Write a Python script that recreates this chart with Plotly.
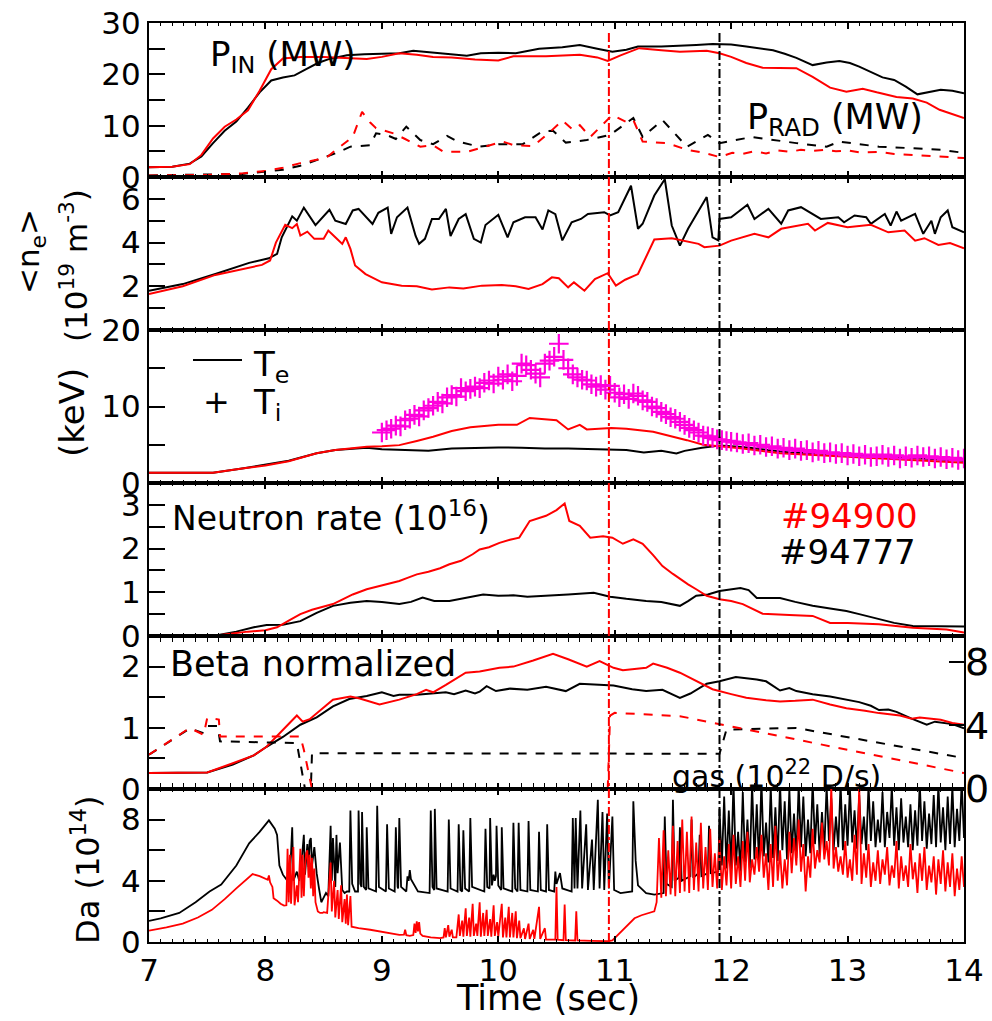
import plotly.graph_objects as go

W, H = 992, 1021
FONT = "DejaVu Sans"
RED = "#ff0000"
BLACK = "#000000"
MAGENTA = "#ff00dc"

# ---------------- data (time in s) ----------------
# Panel 1: input power P_IN (MW)
pin_black = [(7.0, 1.9), (7.2, 2.0), (7.35, 2.6), (7.45, 4.0), (7.55, 6.6), (7.65, 9.0), (7.75, 10.8),
             (7.85, 13.5), (7.95, 16.5), (8.05, 18.8), (8.15, 19.4), (8.25, 19.8), (8.35, 21.0),
             (8.45, 22.2), (8.55, 23.0), (8.7, 23.7), (8.85, 23.9), (9.0, 24.0), (9.15, 24.1),
             (9.27, 24.6), (9.4, 24.3), (9.5, 24.0), (9.6, 23.9), (9.73, 23.6), (9.85, 24.1),
             (10.0, 24.2), (10.15, 24.1), (10.35, 25.0), (10.55, 25.3), (10.7, 25.7), (10.85, 25.0),
             (10.98, 24.4), (11.1, 24.8), (11.2, 25.4), (11.4, 25.4), (11.56, 25.5), (11.7, 25.7),
             (11.84, 25.9), (12.0, 25.8), (12.13, 25.4), (12.25, 25.1), (12.36, 24.7), (12.46, 24.0),
             (12.56, 23.2), (12.7, 21.8), (12.82, 22.3), (12.93, 22.6), (13.02, 22.2), (13.1, 21.5),
             (13.2, 20.5), (13.3, 19.4), (13.4, 18.9), (13.5, 17.6), (13.6, 16.1), (13.7, 16.6),
             (13.8, 17.0), (13.9, 16.8), (14.0, 16.3)]
pin_red = [(7.0, 1.9), (7.2, 2.0), (7.35, 2.5), (7.45, 4.3), (7.55, 7.5), (7.65, 9.8), (7.75, 11.2),
           (7.85, 13.0), (7.95, 16.8), (8.05, 21.0), (8.15, 23.1), (8.3, 23.4), (8.5, 23.4), (8.7, 23.2),
           (8.87, 23.0), (9.0, 23.4), (9.15, 24.1), (9.3, 23.8), (9.44, 23.4), (9.6, 23.3), (9.8, 22.9),
           (10.0, 22.7), (10.13, 23.5), (10.41, 23.5), (10.7, 23.8), (10.85, 23.3), (10.94, 22.6),
           (11.05, 23.7), (11.21, 25.1), (11.4, 24.7), (11.56, 24.4), (11.79, 24.6), (11.9, 24.1),
           (12.0, 23.4), (12.13, 22.2), (12.27, 21.3), (12.56, 21.2), (12.7, 19.5), (12.85, 17.4),
           (12.99, 16.6), (13.13, 17.2), (13.25, 16.5), (13.42, 15.6), (13.56, 15.3), (13.68, 14.5),
           (13.79, 13.1), (13.9, 12.2), (14.0, 11.5)]
# Panel 1: radiated power P_RAD (MW)
prad_black = [(7.0, 0.3), (7.5, 0.4), (7.8, 0.6), (8.15, 1.4), (8.3, 2.2), (8.44, 3.3), (8.6, 4.6),
              (8.73, 5.9), (8.9, 6.2), (8.95, 8.5), (9.04, 8.2), (9.12, 7.4), (9.21, 9.8), (9.33, 7.2),
              (9.44, 6.4), (9.56, 8.0), (9.65, 6.9), (9.84, 5.9), (10.01, 6.4), (10.21, 6.4),
              (10.38, 8.9), (10.47, 9.0), (10.58, 6.7), (10.76, 7.2), (10.96, 8.2), (11.16, 11.5),
              (11.24, 7.8), (11.41, 11.1), (11.62, 5.9), (11.8, 8.2), (11.9, 6.6), (12.18, 7.8),
              (12.35, 7.2), (12.56, 6.6), (12.82, 5.9), (12.93, 6.9), (13.1, 6.4), (13.27, 5.9),
              (13.56, 5.6), (13.8, 5.3), (14.0, 4.7)]
prad_red = [(7.0, 0.3), (7.5, 0.4), (7.8, 0.7), (8.01, 1.2), (8.15, 1.8), (8.3, 2.7), (8.45, 3.4),
            (8.53, 3.9), (8.64, 5.9), (8.75, 7.8), (8.83, 12.7), (8.9, 10.6), (8.95, 9.5), (9.1, 8.5),
            (9.2, 7.4), (9.33, 5.9), (9.44, 6.2), (9.53, 4.9), (9.73, 4.9), (9.84, 5.6), (10.04, 6.9),
            (10.13, 6.2), (10.3, 6.0), (10.45, 8.9), (10.55, 11.0), (10.64, 9.2), (10.7, 10.1),
            (10.79, 7.8), (10.9, 10.2), (10.98, 12.1), (11.1, 10.7), (11.16, 11.1), (11.24, 6.9),
            (11.45, 6.6), (11.62, 5.3), (11.75, 4.8), (11.9, 3.9), (12.01, 4.7), (12.1, 4.5),
            (12.2, 5.0), (12.3, 4.6), (12.4, 5.2), (12.5, 4.9), (12.6, 5.3), (12.7, 5.1), (12.8, 5.3),
            (12.9, 5.0), (13.0, 5.2), (13.1, 4.8), (13.27, 4.9), (13.4, 4.5), (13.56, 4.3),
            (13.7, 4.2), (13.8, 4.0), (14.0, 3.7)]

# Panel 2: line-averaged density <n_e> (1e19 m^-3)
ne_black = [(7.0, 1.8), (7.29, 2.1), (7.57, 2.56), (7.86, 3.07), (8.03, 3.28), (8.1, 3.48), (8.14, 4.24),
            (8.23, 5.2), (8.27, 5.0), (8.33, 5.6), (8.43, 4.8), (8.55, 5.5), (8.6, 5.0), (8.69, 4.85),
            (8.75, 5.47), (8.8, 5.54), (8.92, 4.85), (8.97, 5.36), (9.05, 5.6), (9.08, 4.4),
            (9.13, 5.16), (9.22, 5.6), (9.29, 4.3), (9.32, 3.94), (9.37, 4.17), (9.43, 5.08),
            (9.49, 5.08), (9.55, 5.54), (9.59, 4.3), (9.66, 5.08), (9.72, 5.3), (9.79, 4.17),
            (9.85, 4.0), (9.89, 4.8), (10.0, 5.27), (10.08, 4.24), (10.13, 4.93), (10.23, 5.16),
            (10.32, 5.16), (10.38, 4.6), (10.43, 5.47), (10.49, 5.3), (10.55, 4.1), (10.63, 4.93),
            (10.71, 5.08), (10.77, 5.31), (10.91, 5.39), (10.96, 5.24), (11.03, 5.39), (11.14, 6.6),
            (11.2, 4.63), (11.24, 4.86), (11.34, 6.15), (11.43, 6.9), (11.49, 4.78), (11.56, 3.86),
            (11.63, 4.63), (11.79, 6.08), (11.84, 4.24), (11.89, 4.1), (11.9, 5.08), (12.0, 5.16),
            (12.14, 5.73), (12.2, 5.08), (12.32, 5.54), (12.43, 4.86), (12.49, 5.47), (12.6, 5.62),
            (12.77, 5.08), (12.92, 5.16), (12.97, 4.93), (13.06, 5.24), (13.16, 5.16), (13.2, 4.86),
            (13.32, 5.31), (13.37, 4.78), (13.42, 5.42), (13.46, 5.0), (13.58, 5.31), (13.65, 4.4),
            (13.72, 5.0), (13.75, 4.4), (13.8, 5.16), (13.86, 5.47), (13.9, 4.7), (14.0, 4.47)]
ne_red = [(7.0, 1.65), (7.29, 2.0), (7.57, 2.52), (7.86, 2.87), (7.97, 2.98), (8.04, 3.18), (8.09, 4.0),
          (8.17, 4.81), (8.23, 4.66), (8.27, 4.85), (8.3, 4.32), (8.36, 4.5), (8.42, 4.17), (8.5, 4.17),
          (8.54, 4.55), (8.6, 4.24), (8.66, 3.94), (8.69, 4.24), (8.73, 3.71), (8.77, 2.95),
          (8.86, 2.56), (9.0, 2.18), (9.17, 2.03), (9.3, 2.0), (9.43, 1.85), (9.58, 1.95), (9.7, 1.9),
          (9.86, 2.03), (10.03, 2.06), (10.15, 2.0), (10.26, 1.88), (10.38, 2.1), (10.46, 2.41),
          (10.52, 2.37), (10.6, 1.95), (10.65, 2.18), (10.74, 1.8), (10.83, 2.33), (10.94, 2.6),
          (11.01, 2.03), (11.09, 2.3), (11.2, 2.56), (11.26, 3.25), (11.34, 4.14), (11.49, 4.2),
          (11.72, 3.94), (11.77, 3.79), (11.9, 3.86), (12.0, 4.09), (12.2, 4.4), (12.32, 4.24),
          (12.43, 4.63), (12.66, 4.86), (12.72, 4.55), (12.83, 4.9), (13.0, 4.7), (13.2, 4.81),
          (13.35, 4.47), (13.49, 4.55), (13.58, 4.09), (13.66, 4.2), (13.78, 3.89), (13.88, 3.98),
          (14.0, 3.74)]

# Panel 3: electron temperature Te (keV)
te_black = [(7.0, 1.35), (7.55, 1.35), (7.8, 1.9), (8.0, 2.35), (8.2, 2.9), (8.44, 3.9), (8.6, 4.3),
            (8.87, 4.6), (9.0, 4.4), (9.2, 4.3), (9.4, 4.2), (9.6, 4.5), (9.8, 4.6), (10.0, 4.65),
            (10.2, 4.6), (10.4, 4.5), (10.6, 4.5), (10.8, 4.45), (10.95, 4.35), (11.1, 4.3),
            (11.25, 4.0), (11.4, 4.2), (11.53, 3.85), (11.6, 4.2), (11.75, 4.6), (11.9, 4.9),
            (12.1, 4.7), (12.5, 4.0), (13.0, 3.7), (13.5, 3.3), (14.0, 2.9)]
te_red = [(7.0, 1.35), (7.55, 1.35), (7.8, 1.9), (8.0, 2.3), (8.2, 2.85), (8.44, 3.9), (8.6, 4.3),
          (8.87, 4.75), (9.0, 4.8), (9.15, 4.95), (9.3, 5.5), (9.44, 6.05), (9.6, 6.8), (9.76, 7.3),
          (10.0, 7.6), (10.16, 7.6), (10.27, 8.5), (10.5, 8.2), (10.6, 7.0), (10.7, 7.6), (10.76, 7.0),
          (10.97, 7.2), (11.1, 7.1), (11.33, 6.7), (11.62, 5.6), (11.76, 5.0), (11.9, 4.8),
          (12.1, 4.5), (12.42, 3.9), (13.0, 3.45), (13.56, 3.0), (14.0, 2.66)]
# Ion temperature Ti (keV): 9.00-12.00 every 0.04 s, then 12.05-14.00 every 0.05 s
ti_part1 = [6.6, 6.9, 7.1, 7.5, 7.4, 8.2, 8.4, 8.9, 8.7, 9.5, 9.8, 10.1, 10.6, 10.4, 11.2, 11.5, 11.3,
            12.4, 12.0, 12.3, 12.6, 12.4, 13.1, 13.4, 13.0, 13.9, 13.5, 14.2, 13.3, 14.0, 15.6, 15.4,
            14.8, 14.3, 13.8, 15.6, 16.0, 16.5, 18.2, 16.1, 15.0, 14.2, 13.8, 13.5, 13.4, 12.9, 12.6,
            12.8, 12.2, 12.7, 11.8, 11.2, 11.6, 11.0, 11.7, 11.4, 10.8, 10.6, 10.0, 9.8, 9.3, 9.0, 8.6,
            8.4, 8.0, 7.6, 7.2, 6.9, 6.6, 6.2, 6.1, 5.9, 5.7, 5.6, 5.5, 5.4]
ti_part2 = [5.3, 5.1, 5.2, 4.9, 5.0, 4.7, 4.8, 4.5, 4.6, 4.3, 4.5, 4.2, 4.3, 4.0, 4.2, 3.9, 4.0, 3.8,
            3.9, 3.6, 3.8, 3.5, 3.7, 3.4, 3.5, 3.7, 3.4, 3.6, 3.2, 3.5, 3.3, 3.6, 3.4, 3.5, 3.2, 3.4,
            3.1, 3.3, 3.0, 3.2]

# Panel 4: neutron rate (1e16 /s)
neut_black = [(7.0, 0.0), (7.55, 0.0), (7.75, 0.1), (7.9, 0.2), (8.01, 0.25), (8.15, 0.26), (8.3, 0.34),
              (8.44, 0.53), (8.58, 0.69), (8.73, 0.76), (8.87, 0.8), (9.0, 0.78), (9.15, 0.73),
              (9.25, 0.78), (9.35, 0.88), (9.45, 0.8), (9.58, 0.8), (9.7, 0.86), (9.87, 0.95),
              (10.0, 0.92), (10.13, 0.93), (10.25, 0.9), (10.41, 0.92), (10.6, 0.95), (10.82, 0.99),
              (10.96, 0.9), (11.1, 0.85), (11.27, 0.8), (11.4, 0.78), (11.56, 0.69), (11.63, 0.8),
              (11.7, 0.92), (11.8, 0.95), (11.9, 1.03), (12.08, 1.1), (12.15, 1.05), (12.22, 0.87),
              (12.42, 0.87), (12.55, 0.78), (12.7, 0.69), (12.85, 0.63), (12.99, 0.57), (13.1, 0.5),
              (13.27, 0.38), (13.4, 0.3), (13.56, 0.23), (13.8, 0.23), (14.0, 0.22)]
neut_red = [(7.0, 0.0), (7.55, 0.0), (7.7, 0.05), (7.85, 0.1), (8.0, 0.13), (8.1, 0.2), (8.2, 0.35),
            (8.3, 0.5), (8.4, 0.6), (8.5, 0.68), (8.58, 0.73), (8.65, 0.82), (8.75, 0.95), (8.87, 1.07),
            (8.95, 1.12), (9.05, 1.2), (9.15, 1.26), (9.22, 1.33), (9.3, 1.41), (9.4, 1.47),
            (9.5, 1.55), (9.58, 1.64), (9.68, 1.72), (9.78, 1.87), (9.84, 1.98), (9.92, 2.03),
            (10.01, 2.13), (10.1, 2.2), (10.18, 2.25), (10.27, 2.63), (10.35, 2.7), (10.41, 2.75),
            (10.5, 2.88), (10.57, 3.03), (10.61, 2.63), (10.7, 2.52), (10.79, 2.25), (10.9, 2.28),
            (10.98, 2.25), (11.07, 2.11), (11.16, 2.21), (11.24, 2.11), (11.33, 1.85), (11.41, 1.6),
            (11.5, 1.42), (11.56, 1.3), (11.63, 1.18), (11.7, 1.07), (11.79, 0.92), (11.9, 0.84),
            (12.0, 0.8), (12.1, 0.73), (12.2, 0.6), (12.27, 0.51), (12.5, 0.48), (12.7, 0.46),
            (12.85, 0.3), (13.0, 0.3), (13.27, 0.27), (13.56, 0.19), (13.85, 0.15), (13.93, 0.12),
            (14.0, 0.08)]

# Panel 5: normalized beta
beta_black = [(7.0, 0.26), (7.5, 0.27), (7.72, 0.4), (7.9, 0.55), (8.01, 0.69), (8.15, 0.85), (8.3, 1.05),
              (8.44, 1.17), (8.58, 1.35), (8.72, 1.47), (8.87, 1.52), (8.95, 1.55), (9.0, 1.58),
              (9.1, 1.52), (9.15, 1.54), (9.3, 1.54), (9.44, 1.56), (9.55, 1.58), (9.62, 1.55),
              (9.72, 1.61), (9.8, 1.56), (9.84, 1.59), (9.9, 1.68), (9.98, 1.6), (10.1, 1.64),
              (10.25, 1.62), (10.41, 1.67), (10.5, 1.63), (10.58, 1.6), (10.7, 1.72), (10.85, 1.7),
              (10.99, 1.69), (11.15, 1.63), (11.27, 1.6), (11.41, 1.62), (11.56, 1.49), (11.65, 1.56),
              (11.79, 1.72), (11.9, 1.76), (12.04, 1.83), (12.22, 1.79), (12.3, 1.76), (12.42, 1.61),
              (12.5, 1.65), (12.56, 1.6), (12.7, 1.55), (12.85, 1.51), (12.99, 1.46), (13.1, 1.42),
              (13.2, 1.36), (13.27, 1.29), (13.35, 1.3), (13.42, 1.26), (13.55, 1.15), (13.68, 1.05),
              (13.75, 1.1), (13.9, 1.06), (14.0, 0.99)]
beta_red = [(7.0, 0.26), (7.5, 0.27), (7.72, 0.42), (7.9, 0.55), (8.01, 0.69), (8.15, 0.97), (8.27, 1.2),
            (8.32, 1.1), (8.38, 1.14), (8.5, 1.33), (8.58, 1.46), (8.73, 1.51), (8.81, 1.48),
            (8.98, 1.38), (9.15, 1.46), (9.3, 1.55), (9.38, 1.62), (9.44, 1.58), (9.55, 1.7),
            (9.72, 1.9), (9.84, 1.92), (10.01, 1.98), (10.13, 2.0), (10.3, 2.1), (10.47, 2.21),
            (10.6, 2.12), (10.76, 2.0), (10.87, 2.09), (10.99, 1.98), (11.07, 1.94), (11.2, 1.96),
            (11.27, 1.98), (11.33, 2.05), (11.45, 1.98), (11.56, 1.9), (11.7, 1.76), (11.84, 1.63),
            (12.0, 1.55), (12.13, 1.49), (12.3, 1.45), (12.42, 1.43), (12.55, 1.44), (12.7, 1.46),
            (12.85, 1.38), (12.99, 1.32), (13.15, 1.28), (13.27, 1.24), (13.45, 1.2), (13.55, 1.15),
            (13.62, 1.17), (13.8, 1.13), (13.9, 1.08), (14.0, 1.05)]
# Panel 5 (right axis): gas puffing (1e22 D/s)
gas_black = [(7.0, 2.15), (7.35, 3.8), (7.47, 3.5), (7.5, 3.95), (7.59, 3.95), (7.61, 2.99), (8.27, 2.88),
             (8.34, 0.0), (8.39, 0.0), (8.4, 2.25), (11.9, 2.21), (11.96, 3.73), (12.56, 3.83),
             (14.0, 1.94)]
gas_red = [(7.0, 2.15), (7.35, 3.83), (7.47, 3.4), (7.5, 4.46), (7.6, 4.36), (7.61, 3.3), (8.3, 3.3),
           (8.33, 2.46), (8.4, 0.0), (10.94, 0.0), (10.96, 4.6), (11.0, 4.78), (11.56, 4.57),
           (14.0, 1.0)]

# Panel 6: D-alpha (1e14)
da_black_early = [(7.0, 1.38), (7.1, 1.55), (7.26, 1.9), (7.4, 2.6), (7.52, 3.3), (7.62, 3.75), (7.75, 5.0),
                  (7.86, 6.45), (7.95, 7.2), (8.03, 7.95), (8.08, 7.4), (8.1, 7.0), (8.12, 5.0),
                  (8.15, 4.4), (8.18, 4.1), (8.21, 4.2), (8.23, 7.5), (8.24, 4.0), (8.27, 4.6),
                  (8.29, 4.0), (8.31, 5.2), (8.33, 7.0), (8.34, 4.4), (8.36, 6.4), (8.37, 4.9),
                  (8.38, 6.6), (8.39, 6.8), (8.4, 5.0), (8.42, 6.2), (8.44, 4.5), (8.46, 3.5),
                  (8.48, 2.6), (8.5, 2.9), (8.52, 3.2), (8.54, 3.0), (8.56, 7.6), (8.57, 4.0),
                  (8.58, 6.8), (8.6, 3.6), (8.61, 7.0), (8.62, 4.5), (8.64, 6.5), (8.66, 3.4),
                  (8.68, 3.2), (8.7, 3.3), (8.72, 3.3), (8.73, 8.6), (8.745, 3.8), (8.77, 3.3),
                  (8.795, 3.3), (8.8, 8.6), (8.815, 3.8), (8.825, 3.6), (8.83, 8.5), (8.845, 3.6),
                  (8.865, 3.4), (8.87, 7.5), (8.885, 3.5), (8.95, 3.3), (8.96, 8.9), (8.975, 3.6),
                  (9.035, 3.3), (9.045, 7.7), (9.06, 3.5), (9.11, 3.3), (9.12, 7.5), (9.135, 3.6),
                  (9.14, 3.5), (9.15, 8.1), (9.165, 3.6), (9.21, 3.3), (9.22, 4.3), (9.23, 4.0),
                  (9.24, 4.7), (9.25, 4.1), (9.27, 3.8), (9.31, 3.3), (9.41, 3.2), (9.42, 8.6),
                  (9.435, 3.6), (9.45, 3.4), (9.455, 8.7), (9.47, 3.5), (9.565, 3.3), (9.575, 8.0),
                  (9.59, 3.5), (9.65, 3.3), (9.66, 7.7), (9.675, 3.4), (9.69, 3.3), (9.7, 7.3),
                  (9.715, 3.5), (9.75, 3.3), (9.76, 8.1), (9.775, 3.6), (9.88, 3.3), (9.89, 7.4),
                  (9.905, 3.6), (9.925, 3.5), (9.93, 8.1), (9.945, 3.7), (9.96, 4.4), (9.97, 4.0),
                  (9.98, 4.3), (9.985, 7.6), (10.0, 3.7), (10.025, 3.4), (10.03, 7.5), (10.045, 3.5),
                  (10.12, 3.3), (10.13, 7.8), (10.145, 3.5), (10.165, 3.3), (10.175, 7.8), (10.19, 3.4),
                  (10.25, 3.3), (10.26, 7.9), (10.275, 3.4), (10.34, 3.3), (10.35, 7.2), (10.365, 3.4),
                  (10.41, 3.3), (10.42, 7.7), (10.435, 3.4), (10.48, 3.3), (10.49, 4.6), (10.5, 3.8),
                  (10.53, 4.5), (10.55, 3.5), (10.63, 3.3), (10.64, 8.1), (10.655, 3.5), (10.665, 8.1),
                  (10.68, 3.5), (10.705, 8.6), (10.72, 3.5), (10.755, 7.7), (10.77, 3.4), (10.805, 6.7),
                  (10.82, 3.4), (10.855, 9.3), (10.87, 3.5), (10.895, 8.5), (10.91, 3.4), (10.935, 8.4),
                  (10.95, 3.5), (10.98, 8.2), (10.995, 3.4), (11.05, 3.2), (11.15, 3.3), (11.16, 9.2),
                  (11.18, 5.3), (11.2, 3.7), (11.27, 3.2), (11.34, 3.1), (11.42, 3.2), (11.43, 8.2),
                  (11.445, 3.8), (11.49, 3.6), (11.5, 9.3), (11.515, 4.0), (11.55, 4.2), (11.56, 7.5),
                  (11.575, 4.0), (11.65, 4.3), (11.66, 8.0), (11.675, 4.2), (11.72, 4.5), (11.73, 7.0),
                  (11.745, 4.3), (11.8, 4.5), (11.81, 7.6), (11.825, 4.5), (11.89, 4.6), (11.9, 8.7)]
# dense part of black D-alpha, 11.92-14.00 s every 0.02 s
da_black_dense = [5.0, 9.5, 4.8, 8.6, 4.7, 10.5, 5.0, 7.2, 4.6, 9.8, 5.2, 8.0, 4.8, 10.4, 5.4, 9.0, 5.0,
                  10.6, 5.6, 7.8, 5.2, 10.2, 5.5, 8.8, 5.3, 10.4, 6.0, 9.2, 5.4, 10.0, 5.8, 8.4, 5.5,
                  10.3, 6.2, 9.5, 5.6, 8.0, 5.8, 10.5, 6.4, 9.0, 5.7, 8.5, 6.0, 10.2, 6.6, 9.4, 6.0,
                  8.2, 6.2, 10.4, 6.0, 9.0, 6.3, 10.1, 6.5, 8.6, 6.1, 9.6, 6.4, 8.2, 6.0, 10.3, 6.6,
                  9.2, 6.2, 8.0, 6.5, 9.8, 6.2, 8.5, 6.8, 10.2, 6.3, 8.8, 6.0, 9.4, 6.5, 8.2, 6.2, 9.0,
                  6.0, 8.6, 6.3, 10.4, 6.6, 9.2, 6.1, 8.4, 6.4, 9.6, 6.2, 10.3, 6.5, 8.8, 6.0, 9.5, 6.4,
                  10.2, 6.2, 8.7, 6.6, 10.5, 6.8]
da_red_early = [(7.0, 0.74), (7.15, 0.95), (7.29, 1.2), (7.42, 1.6), (7.54, 2.1), (7.65, 2.8), (7.75, 3.5),
                (7.82, 4.0), (7.89, 4.44), (7.95, 4.3), (8.02, 4.07), (8.03, 4.35), (8.04, 3.9),
                (8.06, 3.6), (8.07, 2.86), (8.1, 2.7), (8.13, 2.5), (8.16, 2.38), (8.18, 2.4), (8.19, 6.1),
                (8.2, 2.6), (8.21, 5.7), (8.22, 2.5), (8.24, 6.2), (8.25, 2.4), (8.27, 3.7), (8.28, 2.6),
                (8.3, 6.1), (8.31, 2.9), (8.32, 5.7), (8.33, 3.0), (8.34, 5.0), (8.35, 5.8), (8.36, 6.0),
                (8.37, 4.2), (8.38, 5.7), (8.39, 3.5), (8.4, 5.5), (8.41, 3.0), (8.42, 4.8), (8.43, 2.6),
                (8.45, 2.0), (8.47, 1.9), (8.49, 1.9), (8.5, 1.95), (8.53, 1.9), (8.56, 5.2), (8.57, 2.0),
                (8.59, 4.0), (8.6, 1.6), (8.62, 3.4), (8.63, 1.5), (8.65, 3.7), (8.66, 1.3), (8.68, 2.8),
                (8.69, 1.2), (8.7, 3.1), (8.71, 1.1), (8.73, 3.0), (8.74, 1.0), (8.8, 0.9), (8.9, 0.8),
                (9.0, 0.65), (9.1, 0.5), (9.15, 0.47), (9.19, 0.48), (9.2, 0.8), (9.21, 0.45),
                (9.24, 0.4), (9.27, 0.45), (9.28, 1.2), (9.29, 0.6), (9.3, 1.35), (9.31, 0.7),
                (9.32, 1.3), (9.33, 0.55), (9.35, 0.4), (9.42, 0.3), (9.5, 0.25), (9.53, 0.3),
                (9.54, 0.9), (9.55, 0.3), (9.57, 1.1), (9.58, 0.35), (9.6, 0.8), (9.61, 0.3),
                (9.64, 0.3), (9.66, 1.8), (9.67, 0.4), (9.69, 1.4), (9.7, 0.35), (9.72, 2.2),
                (9.73, 0.4), (9.75, 1.6), (9.76, 0.35), (9.78, 2.5), (9.79, 0.4), (9.81, 1.2),
                (9.82, 0.4), (9.84, 2.6), (9.85, 0.35), (9.87, 1.9), (9.88, 0.4), (9.9, 2.1),
                (9.91, 0.4), (9.93, 1.5), (9.94, 0.35), (9.96, 2.4), (9.97, 0.4), (9.99, 1.3),
                (10.0, 0.35), (10.03, 2.5), (10.04, 0.3), (10.06, 1.6), (10.07, 0.3), (10.09, 2.3),
                (10.1, 0.3), (10.12, 1.9), (10.13, 0.3), (10.15, 2.0), (10.16, 0.25), (10.18, 1.4),
                (10.19, 0.25), (10.22, 0.9), (10.23, 0.2), (10.26, 1.2), (10.27, 0.2), (10.3, 0.8),
                (10.31, 0.2), (10.35, 2.3), (10.36, 0.2), (10.4, 0.9), (10.41, 0.15), (10.45, 0.15),
                (10.49, 0.15), (10.5, 3.6), (10.51, 0.15), (10.56, 0.12), (10.57, 2.45), (10.58, 0.12),
                (10.66, 0.1), (10.67, 2.0), (10.68, 0.1), (10.8, 0.08), (10.94, 0.05), (10.98, 0.1),
                (11.02, 0.4), (11.06, 0.68), (11.1, 1.0), (11.17, 1.55), (11.23, 1.75), (11.29, 1.88),
                (11.34, 2.0)]
# dense part of red D-alpha, 11.36-14.00 s every 0.02 s
da_red_dense = [2.6, 6.8, 2.9, 7.3, 3.0, 6.0, 3.1, 7.6, 3.0, 6.6, 3.2, 8.0, 3.3, 7.2, 3.2, 8.2, 3.4, 6.5,
                3.3, 7.8, 3.5, 6.2, 3.4, 7.4, 3.6, 5.8, 3.5, 6.8, 3.4, 5.6, 3.7, 6.4, 3.5, 7.0, 3.8, 5.6,
                3.6, 6.6, 4.0, 7.2, 3.9, 5.4, 4.4, 6.2, 4.6, 7.0, 4.2, 5.8, 3.4, 6.4, 3.6, 7.6, 4.0, 6.0,
                3.5, 5.4, 3.7, 7.2, 4.5, 6.8, 5.0, 8.0, 4.6, 6.4, 3.3, 5.6, 4.2, 7.4, 4.8, 6.0, 5.2, 7.8,
                5.4, 6.6, 5.0, 10.2, 4.8, 6.2, 4.6, 5.6, 4.4, 6.6, 4.2, 5.4, 4.0, 7.0, 4.4, 10.2, 3.8,
                5.8, 4.2, 6.4, 3.6, 5.2, 4.0, 6.0, 3.8, 5.4, 4.4, 6.2, 3.7, 5.0, 4.2, 6.6, 3.5, 5.6, 4.0,
                5.0, 3.6, 6.4, 4.1, 5.2, 3.2, 5.8, 4.0, 6.2, 3.4, 5.0, 3.9, 5.6, 3.1, 5.4, 3.8, 6.0, 3.3,
                5.2, 3.6, 5.8, 3.0, 4.8, 3.4, 5.6, 3.6]

# event times (s) marked by vertical dash-dot lines
t_event_red = 10.95
t_event_black = 11.9

# ---------------- helpers ----------------
def unzip(pairs):
    return [p[0] for p in pairs], [p[1] for p in pairs]


def grid(t0, dt, n):
    return [round(t0 + dt * i, 3) for i in range(n)]


def px(x):
    return x / W


def py(y):
    return 1 - y / H


fig = go.Figure()


def add_line(xs, ys, color, k, dash="solid", width=2.0, yax=None):
    fig.add_trace(go.Scatter(
        x=xs, y=ys, mode="lines",
        line=dict(color=color, width=width, dash=dash),
        xaxis="x" if k == 1 else f"x{k}",
        yaxis=yax if yax else ("y" if k == 1 else f"y{k}"),
        showlegend=False, hoverinfo="skip"))


# Panel 1
add_line(*unzip(pin_black), BLACK, 1)
add_line(*unzip(pin_red), RED, 1)
add_line(*unzip(prad_black), BLACK, 1, dash="dash")
add_line(*unzip(prad_red), RED, 1, dash="dash")
# Panel 2
add_line(*unzip(ne_black), BLACK, 2)
add_line(*unzip(ne_red), RED, 2)
# Panel 3
add_line(*unzip(te_black), BLACK, 3)
add_line(*unzip(te_red), RED, 3)
ti_t = grid(9.0, 0.04, len(ti_part1)) + grid(12.05, 0.05, len(ti_part2))
fig.add_trace(go.Scatter(
    x=ti_t, y=ti_part1 + ti_part2, mode="markers",
    marker=dict(symbol="cross-thin", size=14, color=MAGENTA, line=dict(color=MAGENTA, width=2.2)),
    xaxis="x3", yaxis="y3", showlegend=False, hoverinfo="skip"))
# Panel 4
add_line(*unzip(neut_black), BLACK, 4, width=2)
add_line(*unzip(neut_red), RED, 4, width=2)
# Panel 5
add_line(*unzip(beta_black), BLACK, 5)
add_line(*unzip(beta_red), RED, 5)
add_line(*unzip(gas_black), BLACK, 5, dash="dash", yax="y7")
add_line(*unzip(gas_red), RED, 5, dash="dash", yax="y7")
# Panel 6
tb, vb = unzip(da_black_early)
add_line(tb + grid(11.92, 0.02, len(da_black_dense)), vb + da_black_dense, BLACK, 6, width=1.8)
tr, vr = unzip(da_red_early)
add_line(tr + grid(11.36, 0.02, len(da_red_dense)), vr + da_red_dense, RED, 6, width=1.8)

# ---------------- layout ----------------
tops = [23, 177, 330, 483, 636, 789]
bottoms = [177, 330, 483, 636, 789, 942]
yranges = [[0, 30], [0, 7], [0, 20], [0, 3.5], [0, 2.5], [0, 10]]
ydticks = [10, 2, 10, 1, 1, 4]
yminor = [5, 1, 5, 0.5, 0.5, 2]
XDOM = [px(149), px(964)]

layout = dict(
    width=W, height=H, margin=dict(l=0, r=0, t=0, b=0, autoexpand=False),
    paper_bgcolor="white", plot_bgcolor="white",
    font=dict(family=FONT, size=30, color="black"),
    showlegend=False,
)
for k in range(1, 7):
    xname = "xaxis" if k == 1 else f"xaxis{k}"
    yname = "yaxis" if k == 1 else f"yaxis{k}"
    layout[xname] = dict(
        domain=XDOM, range=[7, 14], anchor="y" if k == 1 else f"y{k}", automargin=False,
        showline=True, linecolor="black", linewidth=2, mirror="allticks",
        ticks="inside", ticklen=6, tickwidth=1.5, tickcolor="black",
        dtick=1, tick0=7, showgrid=False, zeroline=False,
        minor=dict(dtick=0.1, ticklen=3, ticks="inside", tickcolor="black", tickwidth=1),
        showticklabels=(k == 6),
        tickfont=dict(family=FONT, size=31, color="black"),
        ticklabelstandoff=0,
    )
    layout[yname] = dict(
        domain=[py(bottoms[k - 1]), py(tops[k - 1])], range=yranges[k - 1],
        anchor="x" if k == 1 else f"x{k}", automargin=False,
        showline=True, linecolor="black", linewidth=2, mirror=True,
        ticks="inside", ticklen=16, tickwidth=2, tickcolor="black",
        dtick=ydticks[k - 1], tick0=0, showgrid=False, zeroline=False,
        minor=dict(dtick=yminor[k - 1], ticklen=16, ticks="inside", tickcolor="black", tickwidth=2),
        tickfont=dict(family=FONT, size=31, color="black"),
    )
layout["yaxis7"] = dict(
    overlaying="y5", side="right", anchor="x5", range=[0, 9.6], automargin=False,
    tickvals=[0, 4, 8], ticks="inside", ticklen=15, tickwidth=2, tickcolor="black",
    showline=False, showgrid=False, zeroline=False,
    tickfont=dict(family=FONT, size=38, color="black"),
)

fig.update_layout(**layout)

# vertical event lines across all panels
for tv, col in [(t_event_red, RED), (t_event_black, BLACK)]:
    fig.add_shape(type="line", xref="x", yref="paper", x0=tv, x1=tv,
                  y0=py(942), y1=py(30), line=dict(color=col, width=2, dash="dashdot"), layer="above")

# legend sample line for Te
fig.add_shape(type="line", xref="paper", yref="paper", x0=px(193), x1=px(242), y0=py(360), y1=py(360),
              line=dict(color="black", width=2))


def note(text, x, y, size, xanchor="left", color="black", angle=0, yanchor="middle"):
    fig.add_annotation(text=text, x=px(x), y=py(y), xref="paper", yref="paper",
                       xanchor=xanchor, yanchor=yanchor, showarrow=False, textangle=angle,
                       font=dict(family=FONT, size=size, color=color))


note("P<sub>IN</sub> (MW)", 208, 56, 34)
note("P<sub>RAD</sub> (MW)", 745, 120, 35)
note("&lt;n<sub>e</sub>&gt;", 30, 252, 31, xanchor="center", angle=-90)
note("(10<sup>19</sup> m<sup>-3</sup>)", 74, 266, 31, xanchor="center", angle=-90)
note("(keV)", 72, 413, 34, xanchor="center", angle=-90)
note("T<sub>e</sub>", 251, 366, 34)
note("+", 216, 402, 32, xanchor="center")
note("T<sub>i</sub>", 251, 404, 34)
note("Neutron rate (10<sup>16</sup>)", 170, 516, 33)
note("#94900", 920, 516, 34, xanchor="right", color=RED)
note("#94777", 918, 552, 34, xanchor="right")
note("Beta normalized", 168, 664, 35)
note("gas (10<sup>22</sup> D/s)", 670, 774, 30)
note("Da (10<sup>14</sup>)", 86, 870, 32, xanchor="center", angle=-90)
note("Time (sec)", 548, 1020, 35, xanchor="center", yanchor="bottom")

fig.write_html("out.html", config={"displayModeBar": False},
               post_script="document.body.style.margin='0px';document.body.style.padding='0px';")
